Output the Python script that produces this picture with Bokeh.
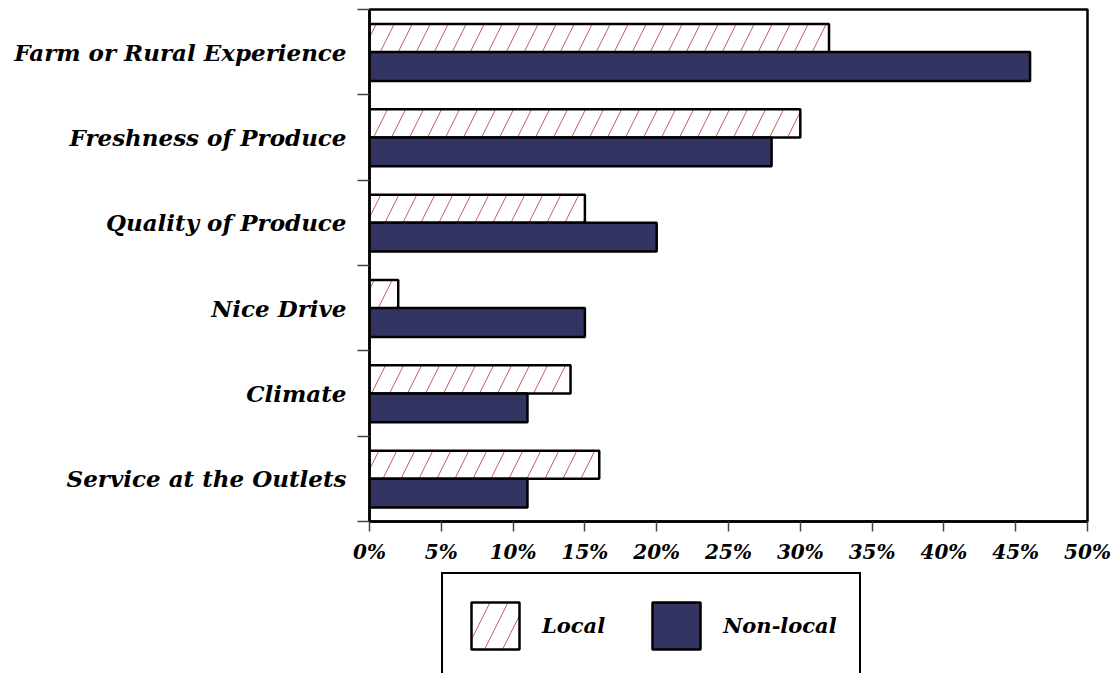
from bokeh.plotting import figure
from bokeh.layouts import column
from bokeh.models import (ColumnDataSource, Range1d, FixedTicker, PrintfTickFormatter,
                          Legend, LegendItem)
from bokeh.transform import dodge
from bokeh.embed import file_html
from bokeh.resources import INLINE

categories = ["Farm or Rural Experience", "Freshness of Produce", "Quality of Produce",
              "Nice Drive", "Climate", "Service at the Outlets"]
local_pct = [32, 30, 15, 2, 14, 16]
nonlocal_pct = [46, 28, 20, 15, 11, 11]
x_ticks = [0, 5, 10, 15, 20, 25, 30, 35, 40, 45, 50]
series_names = ["Local", "Non-local"]

FONT = "DejaVu Serif"
NAVY = "#343462"
HATCH = "#b02838"

LOCAL_STYLE = dict(fill_color="white", line_color="black", line_width=2.5,
                   hatch_pattern="/", hatch_color=HATCH, hatch_weight=1, hatch_scale=36,
                   hatch_alpha=0.75)
NON_STYLE = dict(fill_color=NAVY, line_color="black", line_width=2.5)

n = len(categories)
centers = [n - i - 0.5 for i in range(n)]
src = ColumnDataSource(dict(cat=categories, y=centers, local=local_pct, nonloc=nonlocal_pct))

H_MAIN = 566
p = figure(width=1115, height=H_MAIN, x_range=Range1d(0, 50), y_range=Range1d(0, n),
           output_backend="svg", toolbar_location=None,
           min_border_left=369, min_border_right=28, min_border_top=9,
           min_border_bottom=H_MAIN - 522)

p.hbar(y=dodge("y", 0.165), left=0, right="local", height=0.33, source=src, **LOCAL_STYLE)
p.hbar(y=dodge("y", -0.168), left=0, right="nonloc", height=0.337, source=src, **NON_STYLE)

p.xgrid.visible = False
p.ygrid.visible = False
p.outline_line_color = "black"
p.outline_line_width = 2.5
p.outline_line_alpha = 1
p.background_fill_color = "white"
p.border_fill_color = "white"

xa = p.xaxis[0]
xa.ticker = FixedTicker(ticks=x_ticks, minor_ticks=[])
xa.formatter = PrintfTickFormatter(format="%d%%")
xa.major_tick_out = 10
xa.major_tick_in = 0
xa.minor_tick_out = 0
xa.minor_tick_in = 0
xa.major_tick_line_color = "#444444"
xa.major_tick_line_width = 1.5
xa.axis_line_color = "black"
xa.axis_line_width = 2.5
xa.major_label_text_font = FONT
xa.major_label_text_font_style = "bold italic"
xa.major_label_text_font_size = "20px"
xa.major_label_text_color = "black"
xa.major_label_standoff = 8

ya = p.yaxis[0]
ya.ticker = FixedTicker(ticks=centers, minor_ticks=list(range(n + 1)))
ya.major_label_overrides = {c: cat for c, cat in zip(centers, categories)}
ya.major_tick_out = 0
ya.major_tick_in = 0
ya.minor_tick_out = 12
ya.minor_tick_in = 0
ya.minor_tick_line_color = "#444444"
ya.minor_tick_line_width = 1.5
ya.axis_line_color = "black"
ya.axis_line_width = 2.5
ya.major_label_text_font = FONT
ya.major_label_text_font_style = "bold italic"
ya.major_label_text_font_size = "23px"
ya.major_label_text_color = "black"
ya.major_label_standoff = 11

# legend strip below the chart (its frame is aligned with the chart's frame)
H_LEG = 673 - H_MAIN
lf = figure(width=1115, height=H_LEG, x_range=Range1d(0, 1), y_range=Range1d(0, 1),
            output_backend="svg", toolbar_location=None,
            x_axis_type=None, y_axis_type=None,
            min_border_left=369, min_border_right=28,
            min_border_top=0, min_border_bottom=0)
lf.outline_line_color = None
lf.xgrid.visible = False
lf.ygrid.visible = False
lf.background_fill_color = "white"
lf.border_fill_color = "white"
# swatch renderers: a tiny mark hidden underneath the opaque legend box
dummy = ColumnDataSource(dict(y=[0.45], left=[0.45], right=[0.46]))
lr1 = lf.hbar(y="y", left="left", right="right", height=0.04, source=dummy, **LOCAL_STYLE)
lr2 = lf.hbar(y="y", left="left", right="right", height=0.04, source=dummy, **NON_STYLE)

PAD = 22
GW, GH = 60, 59
LEG_H = 2 * PAD + GH
legend = Legend(items=[LegendItem(label=series_names[0], renderers=[lr1]),
                       LegendItem(label=series_names[1], renderers=[lr2])],
                orientation="horizontal", location=(441 - 369, H_LEG - 10 - LEG_H),
                glyph_width=GW, glyph_height=GH, padding=PAD, spacing=41,
                label_standoff=17, margin=0,
                label_text_font=FONT, label_text_font_style="bold italic",
                label_text_font_size="21px", label_text_color="black",
                border_line_color="black", border_line_width=2.5, border_line_alpha=1,
                background_fill_color="white", background_fill_alpha=1)
lf.add_layout(legend, "center")

layout = column(p, lf, spacing=0)
open("out.html", "w").write(file_html(layout, INLINE))
